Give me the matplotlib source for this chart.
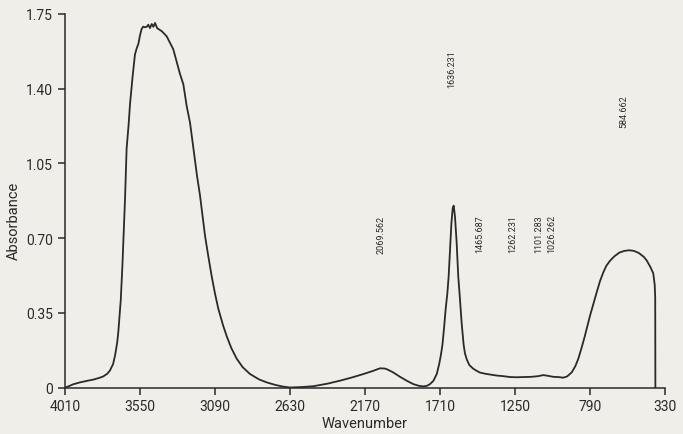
"""IR absorbance spectrum with peak labels."""
import numpy as np
import matplotlib.pyplot as plt

plt.rcParams["font.family"] = ["Roboto", "DejaVu Sans"]

# spectrum (wavenumber, absorbance)
wavenumber = [
    4010, 3990, 3960, 3918, 3870, 3836, 3800, 3775, 3750, 3734, 3715, 3703,
    3690, 3683, 3668, 3658, 3648, 3642, 3632, 3620, 3611, 3595, 3581, 3570,
    3560, 3550, 3540, 3530, 3520, 3509, 3499, 3489, 3478, 3468, 3458, 3444,
    3417, 3386, 3366, 3346, 3305, 3284, 3264, 3243, 3223, 3200, 3182, 3151,
    3130, 3110, 3090, 3070, 3040, 3018, 2990, 2957, 2920, 2875, 2820, 2773,
    2720, 2671, 2630, 2560, 2487, 2400, 2323, 2250, 2180, 2120, 2078, 2050,
    2037, 2000, 1955, 1910, 1874, 1840, 1812, 1790, 1771, 1750, 1730, 1715,
    1705, 1695, 1685, 1675, 1665, 1657, 1648, 1640, 1632, 1626, 1618, 1608,
    1598, 1590, 1577, 1565, 1557, 1545, 1530, 1506, 1485, 1465, 1430, 1403,
    1362, 1320, 1281, 1240, 1199, 1150, 1110, 1077, 1050, 1015, 985, 954,
    930, 902, 880, 862, 840, 821, 805, 790, 770, 749, 728, 708, 690, 667,
    640, 610, 580, 550, 520, 490, 460, 442, 420, 402, 393, 390, 389,
]
absorbance = [
    0.000, 0.005, 0.015, 0.024, 0.032, 0.037, 0.045, 0.052, 0.065, 0.080, 0.110, 0.150,
    0.210, 0.260, 0.410, 0.570, 0.760, 0.880, 1.120, 1.230, 1.330, 1.460, 1.560, 1.590,
    1.610, 1.650, 1.680, 1.691, 1.688, 1.690, 1.700, 1.684, 1.703, 1.690, 1.708, 1.683,
    1.670, 1.645, 1.615, 1.585, 1.470, 1.420, 1.320, 1.240, 1.125, 0.990, 0.900, 0.710,
    0.610, 0.520, 0.440, 0.370, 0.290, 0.240, 0.185, 0.135, 0.095, 0.063, 0.038, 0.024,
    0.012, 0.004, 0.000, 0.002, 0.006, 0.018, 0.032, 0.047, 0.063, 0.078, 0.090, 0.089,
    0.086, 0.072, 0.050, 0.030, 0.016, 0.008, 0.005, 0.008, 0.016, 0.032, 0.063, 0.110,
    0.150, 0.200, 0.280, 0.370, 0.440, 0.520, 0.650, 0.770, 0.840, 0.852, 0.800, 0.680,
    0.520, 0.440, 0.300, 0.200, 0.160, 0.130, 0.105, 0.088, 0.078, 0.070, 0.064, 0.061,
    0.056, 0.053, 0.049, 0.048, 0.049, 0.050, 0.053, 0.058, 0.055, 0.050, 0.049, 0.046,
    0.052, 0.071, 0.100, 0.134, 0.190, 0.243, 0.290, 0.336, 0.390, 0.446, 0.500, 0.540,
    0.570, 0.594, 0.615, 0.632, 0.640, 0.643, 0.640, 0.630, 0.612, 0.595, 0.565, 0.535,
    0.480, 0.420, 0.000,
]

peak_labels = ["1636.231", "584.662", "2069.562", "1465.687", "1262.231", "1101.283", "1026.262"]
peak_pos = [1636.231, 584.662, 2069.562, 1465.687, 1262.231, 1101.283, 1026.262]
label_base = [1.41, 1.22, 0.63, 0.635, 0.635, 0.635, 0.635]

xticks = [4010, 3550, 3090, 2630, 2170, 1710, 1250, 790, 330]
yticks = [0, 0.35, 0.70, 1.05, 1.40, 1.75]
ytick_labels = ["0", "0.35", "0.70", "1.05", "1.40", "1.75"]

bg = "#efeee9"
ink = "#2a2a2a"

fig = plt.figure(figsize=(6.83, 4.35), dpi=100, facecolor=bg)
ax = fig.add_axes([65 / 683, 1 - 388.5 / 435, 600 / 683, 373.5 / 435], facecolor=bg)

ax.plot(wavenumber, absorbance, color=ink, linewidth=1.3)

for lab, x, y in zip(peak_labels, peak_pos, label_base):
    ax.text(x, y, lab, rotation=90, ha="center", va="bottom", fontsize=6.5, color=ink)

ax.set_xlim(4010, 330)
ax.set_ylim(0, 1.75)
ax.set_xticks(xticks)
ax.set_yticks(yticks)
ax.set_yticklabels(ytick_labels)

for s in ["top", "right"]:
    ax.spines[s].set_visible(False)
for s in ["left", "bottom"]:
    ax.spines[s].set_color(ink)
    ax.spines[s].set_linewidth(1.1)

ax.tick_params(direction="out", length=5, width=1.1, color=ink, labelcolor=ink, labelsize=10)

ax.set_xlabel("Wavenumber", fontsize=10.5, color=ink)
ax.set_ylabel("Absorbance", fontsize=10.5, color=ink)
ax.xaxis.set_label_coords(0.5, -0.077)
ax.yaxis.set_label_coords(-0.074, 0.45)

plt.savefig("out.png", dpi=100, facecolor=bg)
plt.close()
